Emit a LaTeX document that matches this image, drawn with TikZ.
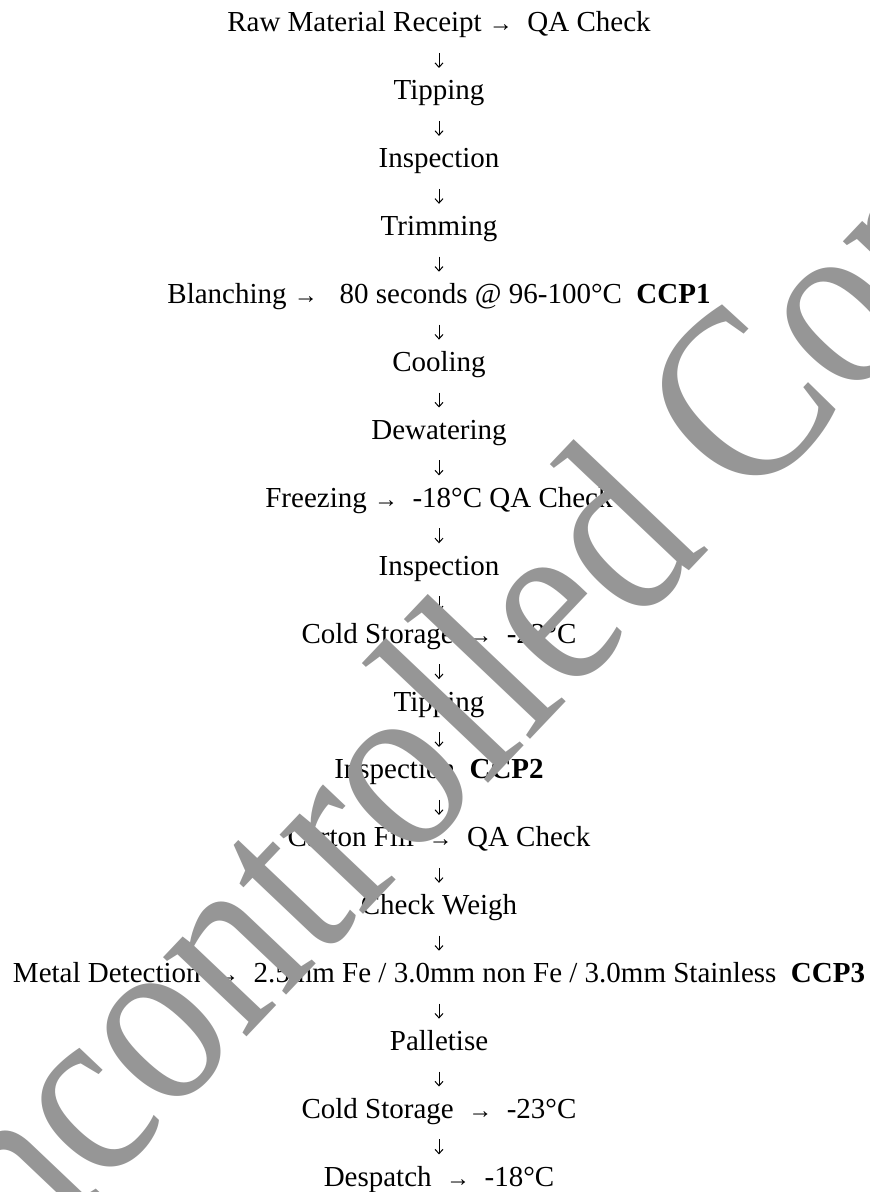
\documentclass[tikz,border=0pt]{standalone}
\usepackage{fontspec}
\setmainfont{Liberation Serif}
\usetikzlibrary{positioning, arrows.meta}
\definecolor{wmgray}{HTML}{969696}
\newcommand{\sidearr}{{\fontsize{12}{12}\selectfont →}}

\begin{document}
\begin{tikzpicture}[x=0.5pt, y=-0.5pt,
  flowline/.style={inner sep=0pt, outer sep=0pt, text height=10pt, text depth=3.2pt,
                   font=\fontsize{14.5}{17}\selectfont},
  dnarr/.style={-{Straight Barb[length=2.2pt, width=4pt]}, line width=0.5pt,
                shorten <=7.3pt, shorten >=5.95pt},
  wmark/.style={inner sep=0pt, anchor=base, rotate=46.5, yscale=1.15, transform shape,
                text=wmgray, font=\fontsize{109}{109}\selectfont},
  node distance=20.75pt
]
\useasboundingbox (0,0) rectangle (870,1192);
\node[flowline, anchor=base] (raw) at (439,32) {Raw Material Receipt \sidearr\ \ QA Check};
\node[flowline, below=of raw]     (tipA)    {Tipping};
\node[flowline, below=of tipA]    (inspA)   {Inspection};
\node[flowline, below=of inspA]   (trim)    {Trimming};
\node[flowline, below=of trim]    (blanch)  {Blanching \sidearr\ \ \ 80 seconds @ 96-100°C \ \textbf{CCP1}};
\node[flowline, below=of blanch]  (cool)    {Cooling};
\node[flowline, below=of cool]    (dewater) {Dewatering};
\node[flowline, below=of dewater] (freeze)  {Freezing \sidearr\ \ -18°C QA Check};
\node[flowline, below=of freeze]  (inspB)   {Inspection};
\node[flowline, below=of inspB]   (storeA)  {Cold Storage \ \sidearr\ \ -23°C};
\node[flowline, below=of storeA]  (tipB)    {Tipping};
\node[flowline, below=of tipB]    (inspC)   {Inspection \ \textbf{CCP2}};
\node[flowline, below=of inspC]   (carton)  {Carton Fill \ \sidearr\ \ QA Check};
\node[flowline, below=of carton]  (weigh)   {Check Weigh};
\node[flowline, below=of weigh]   (metal)   {Metal Detection \ \sidearr\ \ 2.5mm Fe / 3.0mm non Fe / 3.0mm Stainless \ \textbf{CCP3}};
\node[flowline, below=of metal]   (pallet)  {Palletise};
\node[flowline, below=of pallet]  (storeB)  {Cold Storage \ \sidearr\ \ -23°C};
\node[flowline, below=of storeB]  (despatch){Despatch \ \sidearr\ \ -18°C};
\draw[dnarr] (raw) -- (tipA);
\draw[dnarr] (tipA) -- (inspA);
\draw[dnarr] (inspA) -- (trim);
\draw[dnarr] (trim) -- (blanch);
\draw[dnarr] (blanch) -- (cool);
\draw[dnarr] (cool) -- (dewater);
\draw[dnarr] (dewater) -- (freeze);
\draw[dnarr] (freeze) -- (inspB);
\draw[dnarr] (inspB) -- (storeA);
\draw[dnarr] (storeA) -- (tipB);
\draw[dnarr] (tipB) -- (inspC);
\draw[dnarr] (inspC) -- (carton);
\draw[dnarr] (carton) -- (weigh);
\draw[dnarr] (weigh) -- (metal);
\draw[dnarr] (metal) -- (pallet);
\draw[dnarr] (pallet) -- (storeB);
\draw[dnarr] (storeB) -- (despatch);
% watermark on top
\node[wmark] (wm) at (496,775) {Uncontrolled Copy};
\end{tikzpicture}
\end{document}
